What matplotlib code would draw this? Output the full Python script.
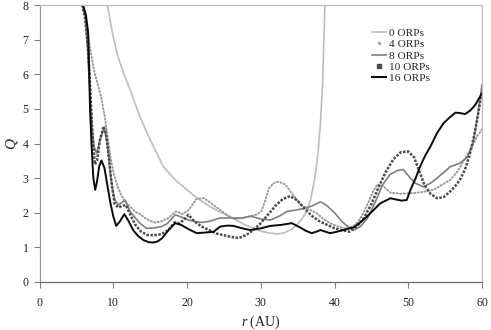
import matplotlib
matplotlib.use("Agg")
import matplotlib.pyplot as plt
from matplotlib.lines import Line2D

plt.rcParams['font.family'] = ['Liberation Serif', 'DejaVu Serif']
plt.rcParams['mathtext.fontset'] = 'custom'
plt.rcParams['mathtext.it'] = 'Liberation Serif:italic'
plt.rcParams['mathtext.rm'] = 'Liberation Serif'

# ---------------- data ----------------
r_0 = [9.2, 9.8, 10.5, 11.4, 12.3, 13.6, 14.8, 16.8, 18.4, 20.0, 21.5, 23.1, 24.5, 25.8,
       27.0, 28.0, 29.0, 30.0, 31.0, 32.2, 33.2, 34.2, 34.9, 35.6, 36.3, 36.8, 37.2,
       37.5, 37.8, 38.1, 38.4, 38.7]
Q_0 = [8.0, 7.3, 6.6, 6.03, 5.55, 4.78, 4.2, 3.33, 2.95, 2.66, 2.4, 2.18, 2.02, 1.89,
       1.75, 1.64, 1.55, 1.47, 1.42, 1.39, 1.42, 1.52, 1.65, 1.82, 2.08, 2.4, 2.86,
       3.25, 3.8, 4.6, 5.8, 8.0]

r_4 = [6.0, 6.4, 6.9, 7.4, 7.9, 8.4, 8.9, 9.3, 9.7, 10.1, 10.6, 11.1, 11.7, 12.3, 13.0,
       13.6, 14.3, 15.0, 15.7, 16.5, 17.5, 18.5, 19.4, 20.3, 21.3, 22.3, 23.3, 24.5,
       25.5, 26.3, 27.5, 28.6, 29.5, 30.1, 30.6, 31.1, 31.7, 32.4, 33.3, 34.2, 35.3,
       36.5, 37.5, 38.5, 39.4, 40.5, 41.5, 42.5, 43.2, 43.9, 44.6, 45.2, 45.8, 46.5,
       47.6, 49.0, 50.3, 52.0, 53.4, 54.5, 55.7, 56.7, 57.5, 58.5, 59.3, 60.0]
Q_4 = [8.0, 7.4, 6.7, 6.1, 5.7, 5.3, 4.7, 4.1, 3.5, 3.1, 2.75, 2.5, 2.3, 2.18, 2.02,
       1.97, 1.85, 1.76, 1.72, 1.75, 1.85, 2.04, 1.96, 2.1, 2.4, 2.42, 2.27, 2.08,
       1.92, 1.82, 1.85, 1.9, 1.95, 2.05, 2.35, 2.7, 2.85, 2.9, 2.82, 2.57, 2.25,
       2.1, 2.0, 1.82, 1.7, 1.6, 1.55, 1.6, 1.75, 1.98, 2.3, 2.6, 2.82, 2.78,
       2.58, 2.55, 2.56, 2.6, 2.66, 2.8, 2.95, 3.2, 3.5, 3.85, 4.2, 4.4]

r_8 = [5.8, 6.2, 6.5, 6.8, 7.1, 7.4, 7.75, 8.2, 8.75, 9.2, 9.55, 9.9, 10.2, 10.7, 11.1,
       11.6, 12.3, 13.0, 13.6, 14.5, 15.5, 16.5, 17.3, 18.4, 19.2, 20.0, 21.0, 22.0,
       23.0, 24.5, 26.0, 27.5, 28.6, 30.0, 31.3, 32.5, 33.6, 34.8, 35.8, 37.0, 38.1,
       39.0, 40.0, 41.0, 41.8, 42.6, 43.5, 44.5, 45.5, 46.5, 47.5, 48.5, 49.3, 50.3,
       51.0, 52.0, 53.0, 53.9, 55.0, 55.7, 57.0, 58.0, 58.8, 59.4, 60.0]
Q_8 = [8.0, 7.7, 6.8, 5.6, 4.5, 3.9, 3.72, 4.1, 4.44, 4.0, 3.24, 2.7, 2.37, 2.23, 2.28,
       2.37, 2.03, 1.85, 1.7, 1.55, 1.56, 1.6, 1.68, 1.94, 1.88, 1.8, 1.75, 1.72,
       1.75, 1.85, 1.85, 1.85, 1.9, 1.82, 1.79, 1.9, 2.04, 2.08, 2.12, 2.2, 2.32,
       2.2, 2.0, 1.75, 1.6, 1.5, 1.6, 1.85, 2.3, 2.8, 3.1, 3.22, 3.25, 3.0,
       2.85, 2.75, 2.85, 3.0, 3.2, 3.33, 3.43, 3.6, 4.0, 4.8, 5.7]

r_10 = [5.8, 6.2, 6.6, 6.9, 7.2, 7.5, 7.8, 8.2, 8.7, 9.0, 9.4, 9.8, 10.2, 10.7, 11.2,
        11.7, 12.3, 13.0, 13.8, 14.6, 15.5, 16.5, 17.5, 18.3, 19.0, 19.6, 20.2, 21.0,
        22.0, 23.0, 24.0, 25.0, 26.0, 27.0, 28.0, 29.0, 30.0, 31.0, 32.0, 33.0, 34.0,
        35.0, 36.0, 37.0, 38.0, 39.0, 40.0, 41.0, 42.0, 43.0, 44.0, 45.0, 46.0, 47.0,
        48.0, 49.0, 50.0, 50.8, 51.5, 52.2, 53.0, 53.9, 54.8, 55.6, 56.3, 57.0, 57.7,
        58.3, 58.9, 59.4, 60.0]
Q_10 = [8.0, 7.6, 6.7, 5.5, 4.2, 3.4, 3.5, 4.1, 4.5, 4.3, 3.6, 2.8, 2.25, 2.15, 2.2,
        2.22, 1.95, 1.65, 1.45, 1.36, 1.35, 1.38, 1.5, 1.72, 1.7, 1.8, 1.94, 1.75,
        1.6, 1.5, 1.4, 1.35, 1.3, 1.27, 1.35, 1.5, 1.7, 1.95, 2.2, 2.4, 2.48,
        2.35, 2.1, 1.9, 1.75, 1.65, 1.55, 1.5, 1.45, 1.6, 1.85, 2.25, 2.75, 3.2,
        3.55, 3.75, 3.77, 3.6, 3.2, 2.8, 2.55, 2.42, 2.45, 2.6, 2.75, 2.95, 3.25,
        3.65, 4.2, 4.75, 5.5]

r_16 = [5.9, 6.3, 6.6, 6.75, 6.85, 7.05, 7.3, 7.55, 7.8, 8.1, 8.4, 8.8, 9.2, 9.6, 10.0,
        10.4, 10.9, 11.5, 12.1, 12.7, 13.4, 14.1, 14.8, 15.4, 16.0, 16.6, 17.5, 18.4,
        19.2, 20.0, 21.3, 22.5, 23.6, 24.5, 25.5, 26.3, 27.5, 28.6, 30.0, 31.3, 32.8,
        34.2, 35.3, 36.1, 36.9, 37.5, 38.1, 38.8, 39.4, 40.3, 41.2, 42.6, 43.5, 44.4,
        45.3, 46.2, 47.6, 48.4, 49.1, 49.8, 50.3, 51.0, 51.6, 52.3, 53.0, 53.9, 54.8,
        55.6, 56.4, 57.0, 57.7, 58.4, 59.1, 60.0]
Q_16 = [8.0, 7.7, 7.2, 6.0, 5.0, 4.0, 3.0, 2.66, 2.9, 3.35, 3.51, 3.3, 2.8, 2.3, 1.9,
        1.62, 1.75, 1.96, 1.75, 1.5, 1.32, 1.21, 1.15, 1.14, 1.17, 1.26, 1.5, 1.7,
        1.65, 1.55, 1.41, 1.43, 1.45, 1.6, 1.63, 1.62, 1.55, 1.5, 1.55, 1.62, 1.65,
        1.7, 1.58, 1.48, 1.41, 1.45, 1.5, 1.45, 1.41, 1.45, 1.5, 1.58, 1.72, 1.89,
        2.08, 2.27, 2.42, 2.38, 2.35, 2.37, 2.66, 3.0, 3.33, 3.65, 3.91, 4.3, 4.59,
        4.75, 4.89, 4.88, 4.85, 4.95, 5.12, 5.45]

labels = ['0 ORPs', '4 ORPs', '8 ORPs', '10 ORPs', '16 ORPs']
x_ticks = [0, 10, 20, 30, 40, 50, 60]
y_ticks = [0, 1, 2, 3, 4, 5, 6, 7, 8]

# ---------------- figure ----------------
fig = plt.figure(figsize=(4.91, 3.30), dpi=100)
ax = fig.add_axes([39.5 / 491, 1 - 282 / 330, (482 - 39.5) / 491, (282 - 5) / 330])

c0, c4, c8, c10, c16 = '#bdbdbd', '#9a9a9a', '#7f7f7f', '#4a4a4a', '#0a0a0a'
ax.plot(r_0, Q_0, color=c0, lw=1.2, solid_capstyle='round')
ax.plot(r_4, Q_4, color=c4, lw=1.4, ls=(0, (0.6, 1.2)), dash_capstyle='round')
ax.plot(r_8, Q_8, color=c8, lw=1.2)
ax.plot(r_10, Q_10, color=c10, lw=1.8, ls=(0, (1.0, 0.6)))
ax.plot(r_16, Q_16, color=c16, lw=1.4)

ax.set_xlim(0, 60)
ax.set_ylim(0, 8)
ax.set_xticks(x_ticks)
ax.set_yticks(y_ticks)
ax.tick_params(axis='both', direction='out', length=4, width=0.8, color='#808080',
               labelsize=8.5, labelcolor='#222222')
ax.tick_params(axis='x', pad=7)
ax.tick_params(axis='y', pad=4)

for side in ['top', 'right']:
    ax.spines[side].set_color('#bcbcbc')
    ax.spines[side].set_linewidth(0.9)
ax.spines['left'].set_color('#9a9a9a')
ax.spines['bottom'].set_color('#6a6a6a')
ax.spines['left'].set_linewidth(0.9)
ax.spines['bottom'].set_linewidth(0.9)

ax.set_xlabel('$r$ (AU)', fontsize=10, labelpad=3, color='#222222')
ax.set_ylabel('$Q$', fontsize=11, labelpad=2, color='#222222')

handles = [
    Line2D([], [], color=c0, lw=1.2),
    Line2D([], [], color=c4, ls='none', marker='.', markersize=2.5),
    Line2D([], [], color=c8, lw=1.2),
    Line2D([], [], color=c10, ls='none', marker='s', markersize=2.2),
    Line2D([], [], color=c16, lw=1.5),
]
leg = ax.legend(handles, labels, loc='upper left',
                bbox_to_anchor=(372 / 491, 1 - 28 / 330), bbox_transform=fig.transFigure,
                frameon=False, fontsize=8.2, handlelength=1.2, handletextpad=0.25,
                labelspacing=0.12, borderpad=0, borderaxespad=0)
for t in leg.get_texts():
    t.set_color('#222222')

fig.savefig('out.png', dpi=100)
